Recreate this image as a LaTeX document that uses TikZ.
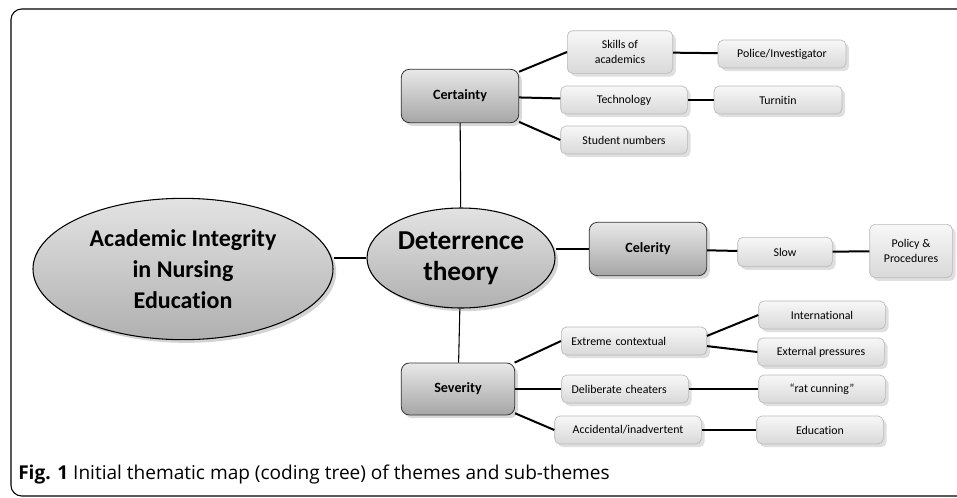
\documentclass[tikz,border=0pt]{standalone}
\usepackage{fontspec}
\setmainfont{Carlito}[Ligatures=NoCommon]
\newfontfamily\capfont{Open Sans}
\usetikzlibrary{shapes.geometric, shadows}

\tikzset{
  core/.style={ellipse, draw=black, line width=0.8pt, top color=gray!22,
    bottom color=gray!62, drop shadow={opacity=.35}, align=center,
    inner sep=0pt, font=\bfseries},
  theme/.style={rectangle, rounded corners=6pt, draw=black!80, line width=0.6pt,
    top color=gray!18, bottom color=gray!70, drop shadow={opacity=.3},
    minimum width=88pt, minimum height=40pt,
    font=\bfseries\fontsize{10.6}{12}\selectfont},
  sub/.style={rectangle, rounded corners=4pt, draw=gray!55, line width=0.5pt,
    top color=gray!6, bottom color=gray!30, drop shadow={opacity=.25},
    minimum height=21pt, align=center, inner sep=2pt,
    font=\fontsize{8.9}{11.5}\selectfont},
  lefttext/.style={align=left, inner xsep=7.5pt, text width=#1},
  thinlink/.style={line width=0.8pt},
  thicklink/.style={line width=1.5pt}
}

\begin{document}
\begin{tikzpicture}[x=0.75pt, y=-0.75pt]
\useasboundingbox (0,0) rectangle (957,497);
% Frame round the figure
\draw[line width=0.8pt, rounded corners=8pt] (980,9) -- (11,9) -- (11,496) -- (980,496);
% Central ellipses
\node[core, minimum width=225pt, minimum height=106pt,
  font=\bfseries\fontsize{18}{23}\selectfont] (academic) at (183,269)
  {Academic Integrity\\in Nursing\\Education};
\node[core, minimum width=141pt, minimum height=75pt,
  font=\bfseries\fontsize{20.5}{23}\selectfont] (deterrence) at (461,258)
  {Deterrence\\theory};
% Three themes
\node[theme] (certainty) at (460,96) {Certainty};
\node[theme] (celerity) at (648,249) {Celerity};
\node[theme, minimum width=85pt, minimum height=39pt] (severity) at (458,389) {Severity};
% Sub-themes of certainty
\node[sub, minimum width=79pt, minimum height=32pt] (skills) at (620,52) {Skills of\\academics};
\node[sub, minimum width=96pt] (police) at (782,54) {Police/Investigator};
\node[sub, minimum width=95pt] (technology) at (624,100) {Technology};
\node[sub, minimum width=96pt] (turnitin) at (778,100) {Turnitin};
\node[sub, minimum width=95pt] (students) at (624,140) {Student numbers};
% Sub-themes of celerity
\node[sub, minimum width=71pt, minimum height=22pt] (slow) at (785,252) {Slow};
\node[sub, minimum width=62pt, minimum height=40pt] (policy) at (911,251) {Policy \&\\Procedures};
% Sub-themes of severity
\node[sub, lefttext=94pt, minimum width=109pt] (extreme) at (634,341) {Extreme contextual};
\node[sub, minimum width=95pt] (international) at (822,315) {International};
\node[sub, minimum width=95pt] (external) at (821,352) {External pressures};
\node[sub, lefttext=80pt, minimum width=95pt] (deliberate) at (625,389) {Deliberate cheaters};
\node[sub, minimum width=95pt] (ratcunning) at (822,389) {“rat cunning”};
\node[sub, minimum width=110pt] (accidental) at (628,430) {Accidental/inadvertent};
\node[sub, minimum width=95pt] (education) at (820,430) {Education};
% Links from the ellipses
\draw[thinlink] (deterrence.west) -- (deterrence.west -| academic.east);
\draw[thinlink] (certainty) -- (deterrence);
\draw[thinlink] (deterrence) -- (severity);
\draw[thicklink] (celerity.west) -- (celerity.west -| deterrence.east);
% Links between boxes
\draw[thicklink] (certainty) -- (skills.west);
\draw[thicklink] (certainty) -- (technology);
\draw[thicklink] (certainty) -- (students.west);
\draw[thicklink] (skills) -- (police);
\draw[thicklink] (technology) -- (turnitin);
\draw[thicklink] (celerity) -- (slow);
\draw[thicklink] (slow) -- (policy);
\draw[thicklink] (severity) -- (extreme.west);
\draw[thicklink] (severity) -- (deliberate);
\draw[thicklink] (severity) -- (accidental.west);
\draw[thicklink] (extreme.4) -- (international.west);
\draw[thicklink] (extreme.-4) -- (external.west);
\draw[thicklink] (deliberate) -- (ratcunning);
\draw[thicklink] (accidental) -- (education);
% Caption
\node[anchor=base west, inner sep=0pt] (caption) at (18,479)
  {\capfont\fontsize{14.3}{17}\selectfont\textbf{Fig. 1} Initial thematic map (coding tree) of themes and sub-themes};
\end{tikzpicture}
\end{document}
